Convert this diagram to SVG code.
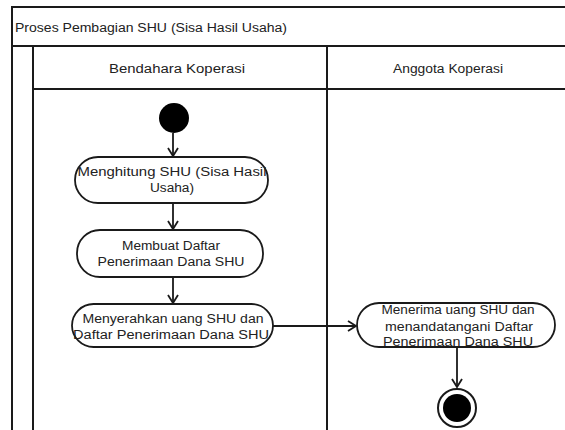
<svg xmlns="http://www.w3.org/2000/svg" width="565" height="430" viewBox="0 0 565 430">
  <style>
    .frame { fill: none; stroke: #1a1a1a; stroke-width: 2; }
    .act { fill: #ffffff; stroke: #1a1a1a; stroke-width: 1.8; }
    .lbl { font-family: "Liberation Sans", Arial, sans-serif; font-size: 12.5px; fill: #222222; text-anchor: middle; }
    .ttl { font-family: "Liberation Sans", Arial, sans-serif; font-size: 12.5px; fill: #222222; }
    .edge { fill: none; stroke: #1a1a1a; stroke-width: 1.8; }
  </style>
  <defs>
    <marker id="arrow" markerWidth="12" markerHeight="12" refX="10" refY="6" orient="auto" markerUnits="userSpaceOnUse">
      <path d="M2,1 L10,6 L2,11" fill="none" stroke="#1a1a1a" stroke-width="1.8"/>
    </marker>
  </defs>
  <rect width="565" height="430" fill="#ffffff"/>

  <!-- swimlane frame -->
  <g id="frame">
    <path class="frame" d="M12,430 V7 H565"/>
    <path class="frame" d="M12,46 H565"/>
    <path class="frame" d="M33,46 V430"/>
    <path class="frame" d="M33,89 H565"/>
    <path class="frame" d="M327,46 V430"/>
    <text class="ttl" x="15" y="32" textLength="272" lengthAdjust="spacingAndGlyphs">Proses Pembagian SHU (Sisa Hasil Usaha)</text>
    <text class="lbl" x="177" y="73" textLength="136" lengthAdjust="spacingAndGlyphs">Bendahara Koperasi</text>
    <text class="lbl" x="448" y="73" textLength="110" lengthAdjust="spacingAndGlyphs">Anggota Koperasi</text>
  </g>

  <!-- connectors -->
  <g id="connectors">
    <path class="edge" d="M173,133 V156" marker-end="url(#arrow)"/>
    <path class="edge" d="M173,203 V229" marker-end="url(#arrow)"/>
    <path class="edge" d="M173,277 V303" marker-end="url(#arrow)"/>
    <path class="edge" d="M273,326 H356" marker-end="url(#arrow)"/>
    <path class="edge" d="M457,347 V387" marker-end="url(#arrow)"/>
  </g>

  <g id="start">
    <circle cx="174" cy="118" r="15" fill="#000000"/>
  </g>

  <g id="act-hitung">
    <rect class="act" x="75" y="157" width="193" height="46" rx="23"/>
    <text class="lbl" x="172" y="176" textLength="189" lengthAdjust="spacingAndGlyphs">Menghitung SHU (Sisa Hasil</text>
    <text class="lbl" x="172" y="192" textLength="44" lengthAdjust="spacingAndGlyphs">Usaha)</text>
  </g>

  <g id="act-daftar">
    <rect class="act" x="77" y="230" width="186" height="47" rx="23"/>
    <text class="lbl" x="171" y="250" textLength="98" lengthAdjust="spacingAndGlyphs">Membuat Daftar</text>
    <text class="lbl" x="171" y="266" textLength="147" lengthAdjust="spacingAndGlyphs">Penerimaan Dana SHU</text>
  </g>

  <g id="act-serahkan">
    <rect class="act" x="72" y="304" width="201" height="43" rx="21.5"/>
    <text class="lbl" x="173" y="323" textLength="181" lengthAdjust="spacingAndGlyphs">Menyerahkan uang SHU dan</text>
    <text class="lbl" x="171" y="339" textLength="196" lengthAdjust="spacingAndGlyphs">Daftar Penerimaan Dana SHU</text>
  </g>

  <g id="act-terima">
    <rect class="act" x="357" y="303" width="198" height="44" rx="22"/>
    <text class="lbl" x="458" y="314" textLength="153" lengthAdjust="spacingAndGlyphs">Menerima uang SHU dan</text>
    <text class="lbl" x="459" y="331" textLength="148" lengthAdjust="spacingAndGlyphs">menandatangani Daftar</text>
    <text class="lbl" x="458" y="346" textLength="150" lengthAdjust="spacingAndGlyphs">Penerimaan Dana SHU</text>
  </g>

  <g id="end">
    <circle cx="457" cy="408" r="19" fill="#ffffff" stroke="#1a1a1a" stroke-width="2"/>
    <circle cx="457" cy="408" r="14" fill="#000000"/>
  </g>
</svg>
